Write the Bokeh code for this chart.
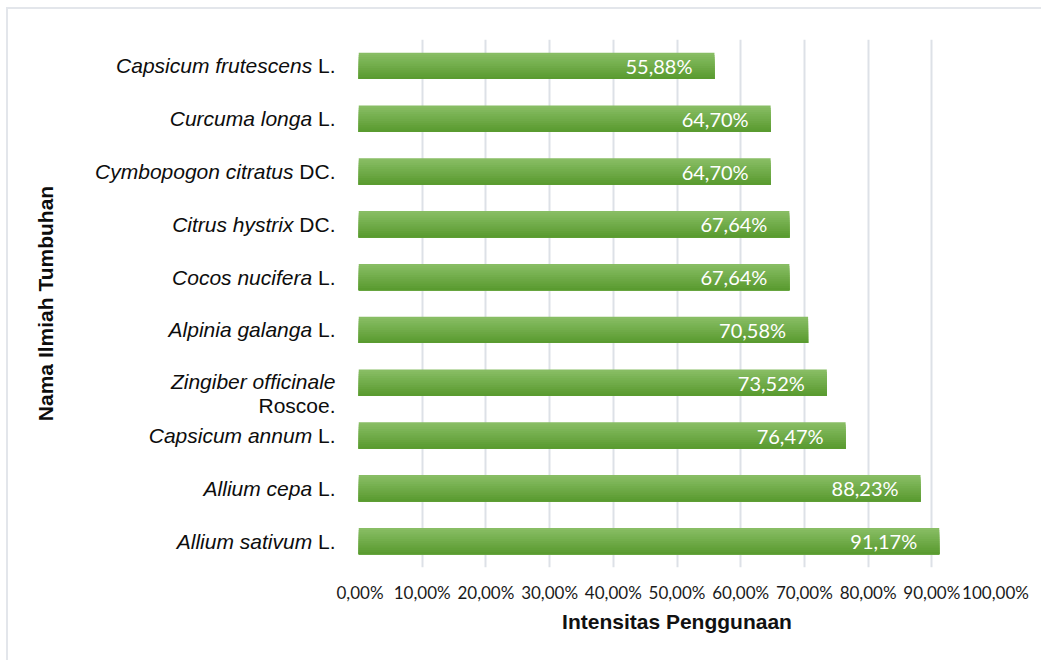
import math
from bokeh.plotting import figure
from bokeh.layouts import row
from bokeh.models import ColumnDataSource, FixedTicker, Range1d
from bokeh.core.properties import value
from bokeh.embed import file_html
from bokeh.resources import INLINE

# ---- data (top to bottom as shown) ----
species = ["Capsicum frutescens", "Curcuma longa", "Cymbopogon citratus", "Citrus hystrix",
           "Cocos nucifera", "Alpinia galanga", "Zingiber officinale", "Capsicum annum",
           "Allium cepa", "Allium sativum"]
authors = ["L.", "L.", "DC.", "DC.", "L.", "L.", "Roscoe.", "L.", "L.", "L."]
values = [55.88, 64.70, 64.70, 67.64, 67.64, 70.58, 73.52, 76.47, 88.23, 91.17]
value_labels = ["55,88%", "64,70%", "64,70%", "67,64%", "67,64%", "70,58%", "73,52%",
                "76,47%", "88,23%", "91,17%"]
x_ticks = [0, 10, 20, 30, 40, 50, 60, 70, 80, 90, 100]
x_tick_labels = ["0,00%", "10,00%", "20,00%", "30,00%", "40,00%", "50,00%", "60,00%",
                 "70,00%", "80,00%", "90,00%", "100,00%"]
y_title = "Nama Ilmiah Tumbuhan"
x_title = "Intensitas Penggunaan"

n = len(species)
ypos = [n - 1 - i for i in range(n)]  # top item gets highest y
yr = Range1d(-0.5, n - 0.5)

FRAME_W = 637
X_MAX = 100

# ---------------- main chart ----------------
p = figure(width=707, height=653, output_backend="svg", toolbar_location=None,
           x_range=Range1d(0, X_MAX), y_range=yr,
           min_border_left=22, min_border_right=48, min_border_top=30, min_border_bottom=95)
p.outline_line_color = None
p.background_fill_color = "white"
p.border_fill_color = "white"

p.ygrid.grid_line_color = None
p.xgrid.grid_line_color = "#dde1e7"
p.xgrid.grid_line_width = 2
p.xaxis.ticker = FixedTicker(ticks=x_ticks)
p.xaxis.major_label_overrides = {t: l for t, l in zip(x_ticks, x_tick_labels)}
p.xaxis.axis_line_color = None
p.xaxis.major_tick_line_color = None
p.xaxis.minor_tick_line_color = None
p.xaxis.major_label_text_font = "Lato"
p.xaxis.major_label_text_font_size = "17px"
p.xaxis.major_label_text_color = "#1a1a1a"
p.xaxis.major_label_standoff = 8
p.xaxis.axis_label = x_title
p.xaxis.axis_label_text_font = "Liberation Sans"
p.xaxis.axis_label_text_font_style = "bold"
p.xaxis.axis_label_text_font_size = "21px"
p.xaxis.axis_label_text_color = "#111111"
p.xaxis.axis_label_standoff = 4
p.yaxis.visible = False

# bars with vertical gradient: each strip spans from its top edge to the bar bottom
bar_h = 0.5
top_c = (136, 189, 100)
bot_c = (90, 155, 48)
N = 12
for k in range(N):
    t = k / (N - 1)
    c = tuple(int(round(top_c[j] + (bot_c[j] - top_c[j]) * t)) for j in range(3))
    col = "#%02x%02x%02x" % c
    top_edge = bar_h / 2 - k * bar_h / N
    hh = top_edge + bar_h / 2
    src = ColumnDataSource(dict(y=[y + top_edge - hh / 2 for y in ypos], right=values))
    p.hbar(y="y", left=0, right="right", height=hh,
           source=src, fill_color=col, line_color=None)

pad = 22 * X_MAX / FRAME_W  # keeps the label text inside the bar end
vsrc = ColumnDataSource(dict(x=[v - pad for v in values], y=ypos, t=value_labels))
p.text(x="x", y="y", text="t", source=vsrc,
       text_align="right", text_baseline="middle", text_color="white",
       text_font=value("Lato"), text_font_size=value("20px"))

# ---------------- label panel (left) ----------------
lab = figure(width=328, height=653, output_backend="svg", toolbar_location=None,
             x_range=Range1d(8, 336), y_range=yr,
             min_border_left=0, min_border_right=0, min_border_top=30, min_border_bottom=95)
lab.outline_line_color = None
lab.axis.visible = False
lab.grid.visible = False
lab.border_fill_color = "white"

fs = 21
adv = {" ": 0.278, "L": 0.556, ".": 0.278, "D": 0.722, "C": 0.722}
right_edge = 335
ix, iy, it, ax, ay, at = [], [], [], [], [], []
for s, a, y in zip(species, authors, ypos):
    if a == "Roscoe.":
        ix.append(right_edge); iy.append(y + 0.02); it.append(s)
        ax.append(right_edge); ay.append(y - 0.44); at.append(a)
    else:
        w = sum(adv[ch] for ch in " " + a) * fs
        ix.append(right_edge - w); iy.append(y); it.append(s)
        ax.append(right_edge); ay.append(y); at.append(a)
isrc = ColumnDataSource(dict(x=ix, y=iy, t=it))
asrc = ColumnDataSource(dict(x=ax, y=ay, t=at))
lab.text(x="x", y="y", text="t", source=isrc, text_align="right", text_baseline="middle",
         text_color="#0d0d0d", text_font=value("Liberation Sans"), text_font_style="italic",
         text_font_size=value(f"{fs}px"))
lab.text(x="x", y="y", text="t", source=asrc, text_align="right", text_baseline="middle",
         text_color="#0d0d0d", text_font=value("Liberation Sans"),
         text_font_size=value(f"{fs}px"))
lab.text(x=[45], y=[(n - 1) / 2], text=[y_title], angle=math.pi / 2,
         text_align="center", text_baseline="middle", text_color="#0d0d0d",
         text_font=value("Liberation Sans"), text_font_style="bold",
         text_font_size=value("21px"))

layout = row(lab, p, spacing=0)
layout.margin = (9, 0, 0, 8)
layout.styles = {"box-shadow": "-2px -2px 0 0 #e3e6eb"}

open("out.html", "w").write(file_html(layout, INLINE))
